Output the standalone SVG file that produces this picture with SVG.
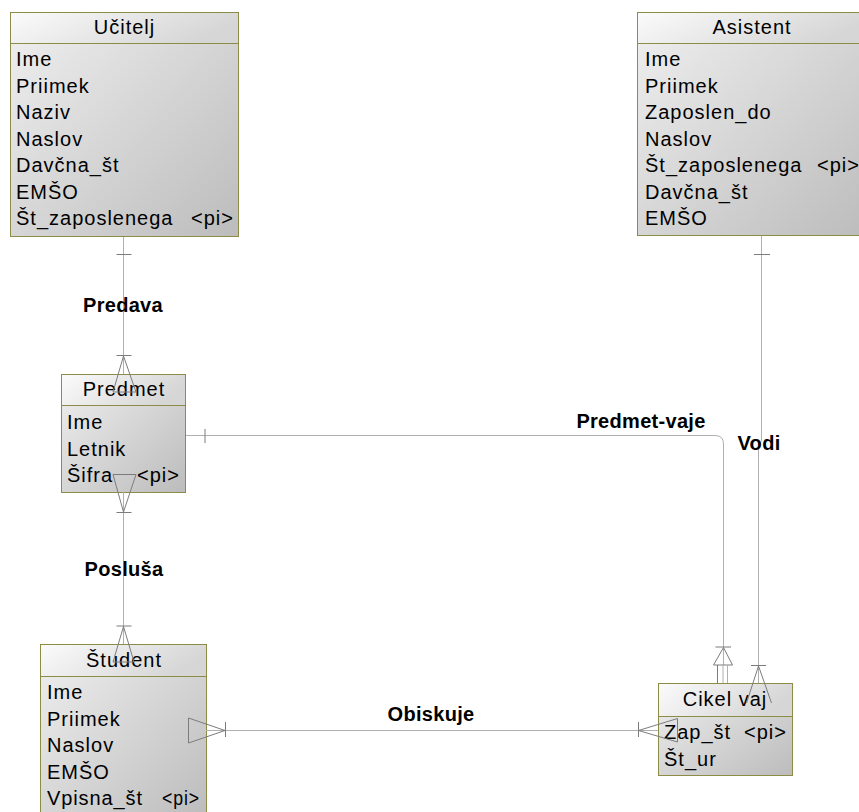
<svg xmlns="http://www.w3.org/2000/svg" width="859" height="812" viewBox="0 0 859 812">
<defs>
<linearGradient id="gBody" x1="0" y1="0" x2="1" y2="1">
<stop offset="0" stop-color="#f0f0f0"/>
<stop offset="1" stop-color="#bcbcbc"/>
</linearGradient>
<linearGradient id="gHead" x1="0" y1="0" x2="1" y2="0.3">
<stop offset="0" stop-color="#fbfbfb"/>
<stop offset="1" stop-color="#d6d6d6"/>
</linearGradient>
<style>
.box{fill:url(#gBody);stroke:#8c8c48;stroke-width:1}
.head{fill:url(#gHead);stroke:#8c8c48;stroke-width:1}
.t{font-family:"Liberation Sans",Arial,sans-serif;font-size:20px;letter-spacing:1px;fill:#000}
.h{text-anchor:middle}
.lbl{font-family:"Liberation Sans",Arial,sans-serif;font-size:20px;font-weight:bold;letter-spacing:0.3px;fill:#000;text-anchor:middle}
.ln{fill:none;stroke:#b0b0b0;stroke-width:1}
.sym{fill:none;stroke:#7c7c7c;stroke-width:1}
</style>
</defs>
<rect width="859" height="812" fill="#ffffff"/>

<g id="ucitelj">
<rect class="box" x="10.5" y="12.5" width="228" height="224"/>
<rect class="head" x="10.5" y="12.5" width="228" height="31"/>
<text class="t h" x="124.5" y="34">Učitelj</text>
<text class="t" x="16" y="66">Ime</text>
<text class="t" x="16" y="92.5">Priimek</text>
<text class="t" x="16" y="119">Naziv</text>
<text class="t" x="16" y="145.5">Naslov</text>
<text class="t" x="16" y="172">Davčna_št</text>
<text class="t" x="16" y="198.5">EMŠO</text>
<text class="t" x="16" y="225">Št_zaposlenega</text>
<text class="t" x="191" y="225">&lt;pi&gt;</text>
</g>

<g id="asistent">
<rect class="box" x="637.5" y="12.5" width="230" height="223"/>
<rect class="head" x="637.5" y="12.5" width="230" height="31"/>
<text class="t h" x="752" y="34">Asistent</text>
<text class="t" x="645" y="66">Ime</text>
<text class="t" x="645" y="92.5">Priimek</text>
<text class="t" x="645" y="119">Zaposlen_do</text>
<text class="t" x="645" y="145.5">Naslov</text>
<text class="t" x="645" y="172">Št_zaposlenega</text>
<text class="t" x="817" y="172">&lt;pi&gt;</text>
<text class="t" x="645" y="198.5">Davčna_št</text>
<text class="t" x="645" y="225">EMŠO</text>
</g>

<g id="predmet">
<rect class="box" x="61.5" y="374.5" width="124" height="118"/>
<rect class="head" x="61.5" y="374.5" width="124" height="31"/>
<text class="t h" x="124" y="396">Predmet</text>
<text class="t" x="67" y="429">Ime</text>
<text class="t" x="67" y="455.5">Letnik</text>
<text class="t" x="67" y="482">Šifra</text>
<text class="t" x="137" y="482">&lt;pi&gt;</text>
</g>

<g id="student">
<rect class="box" x="40.5" y="644.5" width="166" height="175"/>
<rect class="head" x="40.5" y="644.5" width="166" height="32"/>
<text class="t h" x="124" y="667">Študent</text>
<text class="t" x="47" y="699">Ime</text>
<text class="t" x="47" y="725.5">Priimek</text>
<text class="t" x="47" y="752">Naslov</text>
<text class="t" x="47" y="778.5">EMŠO</text>
<text class="t" x="47" y="805" textLength="96">Vpisna_št</text>
<text class="t" x="162" y="805" textLength="38" lengthAdjust="spacingAndGlyphs">&lt;pi&gt;</text>
</g>

<g id="cikel_vaj">
<rect class="box" x="658.5" y="683.5" width="134" height="92"/>
<rect class="head" x="658.5" y="683.5" width="134" height="33"/>
<text class="t h" x="725" y="706">Cikel vaj</text>
<text class="t" x="664" y="739">Zap_št</text>
<text class="t" x="744" y="739">&lt;pi&gt;</text>
<text class="t" x="664" y="765.5">Št_ur</text>
</g>

<g id="connectors">
<!-- Predava -->
<line class="ln" x1="123.5" y1="237" x2="123.5" y2="374"/>
<line class="sym" x1="116.5" y1="254.5" x2="131.5" y2="254.5"/>
<line class="sym" x1="116.5" y1="355.5" x2="131.5" y2="355.5"/>
<polygon class="sym" points="123.5,356 113,392 136,392"/>
<!-- Posluša -->
<line class="ln" x1="123.5" y1="492" x2="123.5" y2="644"/>
<polygon class="sym" points="123.5,512 113,474.5 136,474.5"/>
<line class="sym" x1="116.5" y1="512.5" x2="131.5" y2="512.5"/>
<line class="sym" x1="116.5" y1="626" x2="131.5" y2="626"/>
<polygon class="sym" points="123.5,626.5 113,662 134,662"/>
<!-- Obiskuje -->
<line class="ln" x1="206" y1="730.5" x2="658" y2="730.5"/>
<polygon class="sym" points="225,730.5 188.5,718 188.5,743"/>
<line class="sym" x1="225.5" y1="722" x2="225.5" y2="737"/>
<line class="sym" x1="638.5" y1="722" x2="638.5" y2="737"/>
<polygon class="sym" points="638.5,730.5 677.5,718.5 677.5,742"/>
<!-- Predmet-vaje -->
<path class="ln" d="M186,435.5 H715 Q723.5,435.5 723.5,444 V665"/>
<line class="sym" x1="205" y1="429" x2="205" y2="443"/>
<line class="sym" x1="715.5" y1="647" x2="731" y2="647"/>
<polygon class="sym" points="723.5,647.5 713.5,665 732.5,665"/>
<line class="sym" x1="717.5" y1="665" x2="717.5" y2="683"/>
<line class="ln" x1="723" y1="665" x2="723" y2="683"/>
<line class="ln" x1="727.5" y1="665" x2="727.5" y2="683"/>
<!-- Vodi -->
<polyline class="ln" points="761.5,236 761.5,440 758.5,448 758.5,683"/>
<line class="sym" x1="754" y1="254.5" x2="770" y2="254.5"/>
<line class="sym" x1="751" y1="665.5" x2="766" y2="665.5"/>
<polyline class="sym" points="746.5,703 758.5,666 771.5,703"/>
<!-- labels -->
<text class="lbl" x="123" y="312">Predava</text>
<text class="lbl" x="124" y="576">Posluša</text>
<text class="lbl" x="431" y="721">Obiskuje</text>
<text class="lbl" x="641" y="428">Predmet-vaje</text>
<text class="lbl" x="759" y="450">Vodi</text>
</g>
</svg>
